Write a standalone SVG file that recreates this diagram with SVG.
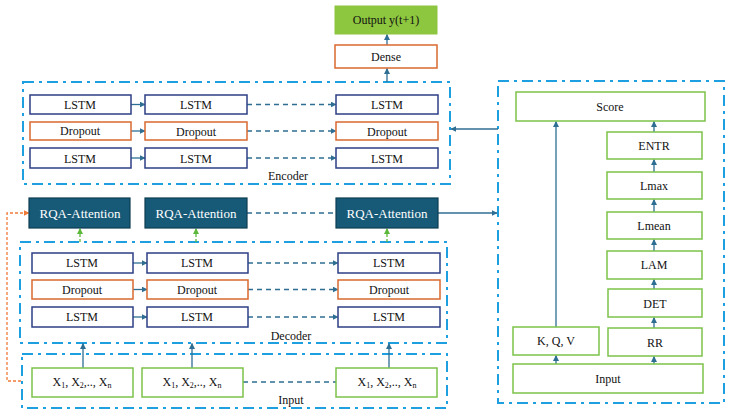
<svg xmlns="http://www.w3.org/2000/svg" width="731" height="415" viewBox="0 0 731 415" font-family="'Liberation Serif', 'Times New Roman', 'DejaVu Serif', serif">
<style>
text{font-family:'Liberation Serif','Times New Roman','DejaVu Serif',serif;font-size:12px;fill:#111;text-anchor:middle;dominant-baseline:central}
.grp{fill:none;stroke:#1ea0e0;stroke-width:2;stroke-dasharray:11 5 3 5}
.lstm{fill:#fff;stroke:#2c3f87;stroke-width:1.5}
.drop{fill:#fff;stroke:#d9692f;stroke-width:1.5}
.grn{fill:#fff;stroke:#7cc24a;stroke-width:1.5}
.rqa{fill:#175a78;stroke:#0e3c52;stroke-width:1.2}
.rqat{fill:#fff;font-size:13px}
.c{fill:none;stroke:#2e6e92;stroke-width:1.3}
.d{stroke-dasharray:5 4}
.g{fill:none;stroke:#5cb83a;stroke-width:1.3;stroke-dasharray:3 2}
.o{fill:none;stroke:#f07a38;stroke-width:1.3;stroke-dasharray:3 2}
.sub{font-size:8px}
</style>
<defs>
<marker id="a" viewBox="0 0 10 10" refX="9" refY="5" markerWidth="6" markerHeight="6" orient="auto" markerUnits="userSpaceOnUse"><path d="M0,0 L10,5 L0,10 z" fill="#2e6e92"/></marker>
<marker id="ag" viewBox="0 0 10 10" refX="9" refY="5" markerWidth="6" markerHeight="6" orient="auto" markerUnits="userSpaceOnUse"><path d="M0,0 L10,5 L0,10 z" fill="#5cb83a"/></marker>
<marker id="ao" viewBox="0 0 10 10" refX="9" refY="5" markerWidth="6" markerHeight="6" orient="auto" markerUnits="userSpaceOnUse"><path d="M0,0 L10,5 L0,10 z" fill="#f07a38"/></marker>
</defs>

<g id="groups">
<rect id="encoder-box" class="grp" x="23" y="82" width="427" height="102"/>
<rect id="decoder-box" class="grp" x="20" y="242" width="427" height="101"/>
<rect id="input-box" class="grp" x="22" y="354" width="425" height="54"/>
<rect id="rqa-box" class="grp" x="498" y="81" width="226" height="322"/>
<text x="288" y="176">Encoder</text>
<text x="291" y="336">Decoder</text>
<text x="291" y="400">Input</text>
</g>

<g id="connectors">
<path class="c" d="M387,82 V68.5" marker-end="url(#a)"/>
<path class="c" d="M387,45 V34.5" marker-end="url(#a)"/>
<path class="c" d="M131,104.5 H145" marker-end="url(#a)"/>
<path class="c d" d="M247,104.5 H336" marker-end="url(#a)"/>
<path class="c" d="M131,131 H145" marker-end="url(#a)"/>
<path class="c d" d="M247,131 H336" marker-end="url(#a)"/>
<path class="c" d="M131,158 H145" marker-end="url(#a)"/>
<path class="c d" d="M247,158 H336" marker-end="url(#a)"/>
<path class="c" d="M498,129 H451" marker-end="url(#a)"/>
<path class="c d" d="M247,213 H336"/>
<path class="c" d="M438,213 H497" marker-end="url(#a)"/>
<path class="o" d="M21,381 H7 V213 H29" marker-end="url(#ao)"/>
<path class="g" d="M80,242 V228.5" marker-end="url(#ag)"/>
<path class="g" d="M196,242 V228.5" marker-end="url(#ag)"/>
<path class="g" d="M387,242 V228.5" marker-end="url(#ag)"/>
<path class="c" d="M133,263 H147" marker-end="url(#a)"/>
<path class="c d" d="M248,263 H338" marker-end="url(#a)"/>
<path class="c" d="M133,289.5 H147" marker-end="url(#a)"/>
<path class="c d" d="M248,289.5 H338" marker-end="url(#a)"/>
<path class="c" d="M133,317 H147" marker-end="url(#a)"/>
<path class="c d" d="M248,317 H338" marker-end="url(#a)"/>
<path class="c" d="M83,368 V343.5" marker-end="url(#a)"/>
<path class="c" d="M192,368 V343.5" marker-end="url(#a)"/>
<path class="c" d="M389,368 V343.5" marker-end="url(#a)"/>
<path class="c d" d="M243,382 H336"/>
<path class="c" d="M556,364 V355.5" marker-end="url(#a)"/>
<path class="c" d="M654,364 V356.5" marker-end="url(#a)"/>
<path class="c" d="M556,327 V121.5" marker-end="url(#a)"/>
<path class="c" d="M654,328 V317.5" marker-end="url(#a)"/>
<path class="c" d="M654,289 V279.5" marker-end="url(#a)"/>
<path class="c" d="M654,251 V239.5" marker-end="url(#a)"/>
<path class="c" d="M654,212 V199.5" marker-end="url(#a)"/>
<path class="c" d="M654,172 V159.5" marker-end="url(#a)"/>
<path class="c" d="M654,132 V121.5" marker-end="url(#a)"/>
</g>

<g id="output"><rect x="335" y="6" width="102" height="28" fill="#8dc63f" stroke="#8dc63f"/><text x="386" y="20">Output y(t+1)</text></g>
<g id="dense"><rect class="drop" x="335" y="45" width="102" height="23"/><text x="386" y="57">Dense</text></g>

<g id="enc-lstm1-1"><rect class="lstm" x="30" y="95" width="101" height="19"/><text x="80" y="105">LSTM</text></g>
<g id="enc-lstm1-2"><rect class="lstm" x="145" y="95" width="102" height="19"/><text x="196" y="105">LSTM</text></g>
<g id="enc-lstm1-3"><rect class="lstm" x="336" y="95" width="102" height="19"/><text x="387" y="105">LSTM</text></g>
<g id="enc-drop-1"><rect class="drop" x="30" y="122" width="101" height="18"/><text x="80" y="131">Dropout</text></g>
<g id="enc-drop-2"><rect class="drop" x="145" y="122" width="102" height="18"/><text x="196" y="132">Dropout</text></g>
<g id="enc-drop-3"><rect class="drop" x="336" y="122" width="102" height="18"/><text x="387" y="132">Dropout</text></g>
<g id="enc-lstm2-1"><rect class="lstm" x="30" y="148" width="101" height="20"/><text x="80" y="159">LSTM</text></g>
<g id="enc-lstm2-2"><rect class="lstm" x="145" y="148" width="102" height="20"/><text x="196" y="159">LSTM</text></g>
<g id="enc-lstm2-3"><rect class="lstm" x="336" y="148" width="102" height="20"/><text x="387" y="159">LSTM</text></g>

<g id="rqa-1"><rect class="rqa" x="29" y="198" width="101" height="30"/><text class="rqat" x="80" y="213">RQA-Attention</text></g>
<g id="rqa-2"><rect class="rqa" x="145" y="198" width="102" height="30"/><text class="rqat" x="196" y="213">RQA-Attention</text></g>
<g id="rqa-3"><rect class="rqa" x="336" y="198" width="102" height="30"/><text class="rqat" x="387" y="213">RQA-Attention</text></g>

<g id="dec-lstm1-1"><rect class="lstm" x="32" y="253" width="101" height="20"/><text x="82" y="263">LSTM</text></g>
<g id="dec-lstm1-2"><rect class="lstm" x="147" y="253" width="101" height="20"/><text x="197" y="263">LSTM</text></g>
<g id="dec-lstm1-3"><rect class="lstm" x="338" y="253" width="102" height="20"/><text x="389" y="263">LSTM</text></g>
<g id="dec-drop-1"><rect class="drop" x="32" y="280" width="101" height="19"/><text x="82" y="290">Dropout</text></g>
<g id="dec-drop-2"><rect class="drop" x="147" y="280" width="101" height="19"/><text x="197" y="290">Dropout</text></g>
<g id="dec-drop-3"><rect class="drop" x="338" y="280" width="102" height="19"/><text x="389" y="290">Dropout</text></g>
<g id="dec-lstm2-1"><rect class="lstm" x="32" y="307" width="101" height="20"/><text x="82" y="317">LSTM</text></g>
<g id="dec-lstm2-2"><rect class="lstm" x="147" y="307" width="101" height="20"/><text x="197" y="317">LSTM</text></g>
<g id="dec-lstm2-3"><rect class="lstm" x="338" y="307" width="102" height="20"/><text x="389" y="317">LSTM</text></g>

<g id="in-1"><rect class="grn" x="32" y="368" width="101" height="29"/><text x="82" y="382">X<tspan class="sub" dy="3">1</tspan><tspan dy="-3">, X</tspan><tspan class="sub" dy="3">2</tspan><tspan dy="-3">,.., X</tspan><tspan class="sub" dy="3">n</tspan></text></g>
<g id="in-2"><rect class="grn" x="142" y="368" width="101" height="29"/><text x="192" y="382">X<tspan class="sub" dy="3">1</tspan><tspan dy="-3">, X</tspan><tspan class="sub" dy="3">2</tspan><tspan dy="-3">,.., X</tspan><tspan class="sub" dy="3">n</tspan></text></g>
<g id="in-3"><rect class="grn" x="336" y="368" width="101" height="29"/><text x="387" y="382">X<tspan class="sub" dy="3">1</tspan><tspan dy="-3">, X</tspan><tspan class="sub" dy="3">2</tspan><tspan dy="-3">,.., X</tspan><tspan class="sub" dy="3">n</tspan></text></g>

<g id="score"><rect class="grn" x="516" y="92" width="189" height="29"/><text x="610" y="107">Score</text></g>
<g id="entr"><rect class="grn" x="607" y="132" width="95" height="27"/><text x="654" y="146">ENTR</text></g>
<g id="lmax"><rect class="grn" x="607" y="172" width="95" height="27"/><text x="654" y="186">Lmax</text></g>
<g id="lmean"><rect class="grn" x="607" y="212" width="95" height="27"/><text x="654" y="226">Lmean</text></g>
<g id="lam"><rect class="grn" x="607" y="251" width="95" height="28"/><text x="654" y="265">LAM</text></g>
<g id="det"><rect class="grn" x="608" y="289" width="94" height="28"/><text x="655" y="304">DET</text></g>
<g id="rr"><rect class="grn" x="608" y="328" width="94" height="28"/><text x="655" y="343">RR</text></g>
<g id="kqv"><rect class="grn" x="513" y="327" width="86" height="28"/><text x="556" y="341">K, Q, V</text></g>
<g id="rp-input"><rect class="grn" x="513" y="364" width="190" height="29"/><text x="608" y="379">Input</text></g>
</svg>
